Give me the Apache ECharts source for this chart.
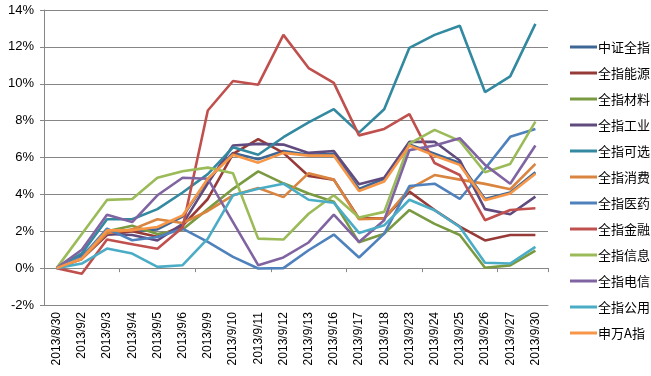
<!DOCTYPE html>
<html>
<head>
<meta charset="utf-8">
<script src="https://cdn.jsdelivr.net/npm/echarts@6/dist/echarts.min.js"></script>
<style>html,body{margin:0;padding:0;background:#fff}#c{width:651px;height:376px}</style>
</head>
<body>
<div id="c"></div>
<script>
const categories = ['2013/8/30','2013/9/2','2013/9/3','2013/9/4','2013/9/5','2013/9/6','2013/9/9','2013/9/10','2013/9/11','2013/9/12','2013/9/13','2013/9/16','2013/9/17','2013/9/18','2013/9/23','2013/9/24','2013/9/25','2013/9/26','2013/9/27','2013/9/30'];
const seriesNames = ['中证全指','全指能源','全指材料','全指工业','全指可选','全指消费','全指医药','全指金融','全指信息','全指电信','全指公用','申万A指'];
const seriesColors = ['#3f6796','#973b38','#7a9a42','#614b7e','#3289a0','#d9843f','#4f81bd','#c0504d','#9bbb59','#8064a2','#4bacc6','#f79646'];
const zzqz = [0, 0.6, 2.0, 2.0, 2.1, 2.8, 4.8, 6.25, 5.9, 6.35, 6.15, 6.2, 4.3, 4.85, 6.7, 6.2, 5.7, 3.75, 4.1, 5.2];
const nengyuan = [0, 0.5, 1.8, 2.0, 1.7, 2.3, 3.75, 6.2, 7.0, 6.25, 5.0, 4.8, 2.7, 2.7, 4.15, 3.15, 2.25, 1.5, 1.8, 1.8];
const cailiao = [0, 0.6, 2.0, 2.3, 1.85, 2.1, 3.2, 4.3, 5.25, 4.6, 4.05, 3.6, 1.4, 1.87, 3.15, 2.4, 1.8, 0.02, 0.15, 0.95];
const gongye = [0, 0.7, 1.85, 1.8, 1.5, 2.4, 4.6, 6.65, 6.74, 6.7, 6.25, 6.35, 4.55, 4.9, 6.85, 6.85, 5.84, 3.2, 2.92, 3.88];
const kexuan = [0, 0.8, 2.65, 2.65, 3.2, 4.1, 5.1, 6.55, 6.15, 7.1, 7.9, 8.62, 7.35, 8.62, 11.95, 12.65, 13.15, 9.55, 10.4, 13.25];
const xiaofei = [0, 0.5, 1.9, 2.1, 2.65, 2.45, 3.1, 3.95, 4.35, 3.85, 5.15, 4.8, 2.65, 2.7, 4.3, 5.05, 4.8, 4.57, 4.28, 5.65];
const yiyao = [0, 0.6, 2.14, 1.51, 1.69, 2.14, 1.42, 0.61, -0.02, 0, 0.97, 1.82, 0.58, 1.87, 4.45, 4.58, 3.75, 5.39, 7.12, 7.55];
const jinrong = [0, -0.3, 1.55, 1.3, 1.05, 2.2, 8.55, 10.15, 9.95, 12.65, 10.85, 10.05, 7.2, 7.55, 8.35, 5.7, 5.05, 2.6, 3.15, 3.25];
const xinxi = [0, 1.85, 3.7, 3.75, 4.9, 5.25, 5.45, 5.15, 1.6, 1.55, 2.95, 3.95, 2.75, 3.05, 6.75, 7.5, 6.9, 5.2, 5.65, 7.95];
const dianxin = [0, 1.0, 2.9, 2.5, 3.95, 4.9, 4.85, 2.5, 0.16, 0.58, 1.39, 2.9, 1.42, 2.6, 6.4, 6.65, 7.05, 5.6, 4.58, 6.65];
const gongyong = [0, 0.25, 1.06, 0.79, 0.07, 0.16, 1.6, 3.95, 4.3, 4.58, 3.71, 3.55, 1.91, 2.32, 3.71, 3.14, 2.23, 0.29, 0.25, 1.15];
const shenwan = [0, 0.52, 2.05, 2.05, 2.23, 2.86, 4.85, 6.15, 5.72, 6.25, 6.1, 6.1, 4.18, 4.7, 6.65, 6.1, 5.6, 3.68, 4.05, 5.12];
const allData = [zzqz, nengyuan, cailiao, gongye, kexuan, xiaofei, yiyao, jinrong, xinxi, dianxin, gongyong, shenwan];
const yMin = -2, yMax = 14, yStep = 2;

const chart = echarts.init(document.getElementById('c'), null, {renderer: 'canvas'});
const font = '"Liberation Sans", Arial, sans-serif';
chart.setOption({
  animation: false,
  backgroundColor: '#fff',
  grid: {left: 44, right: 103, top: 10, bottom: 71, containLabel: false},
  legend: {
    orient: 'vertical', left: 565, top: 35,
    icon: 'rect', itemWidth: 27, itemHeight: 3, itemGap: 12,
    textStyle: {fontSize: 13, color: '#000', lineHeight: 14, fontFamily: '"Noto Sans CJK SC", sans-serif', padding: [0,0,0,-4]},
    data: seriesNames
  },
  xAxis: [{
    type: 'category', data: categories, boundaryGap: true,
    axisLine: {onZero: false, lineStyle: {color: '#868686', width: 1}},
    axisTick: {show: false},
    axisLabel: {rotate: 90, fontSize: 12, color: '#000', fontFamily: font, margin: 7, interval: 0}
  }, {
    type: 'category', data: categories, boundaryGap: true, position: 'bottom',
    axisLine: {onZero: true, show: true, lineStyle: {color: '#868686', width: 1}},
    axisTick: {show: true, length: 4, inside: false, lineStyle: {color: '#868686'}},
    axisLabel: {show: false}
  }],
  yAxis: {
    type: 'value', min: yMin, max: yMax, interval: yStep,
    axisLine: {show: true, lineStyle: {color: '#868686'}},
    axisTick: {show: true, length: 4, lineStyle: {color: '#868686'}},
    splitLine: {lineStyle: {color: '#868686', width: 1}},
    axisLabel: {formatter: '{value}%', fontSize: 13, color: '#000', fontFamily: font, margin: 10}
  },
  series: seriesNames.map((n, i) => ({
    name: n, type: 'line', data: allData[i], symbol: 'none', smooth: false,
    lineStyle: {width: 2.6, color: seriesColors[i]}, itemStyle: {color: seriesColors[i]}
  }))
});
</script>
</body>
</html>
